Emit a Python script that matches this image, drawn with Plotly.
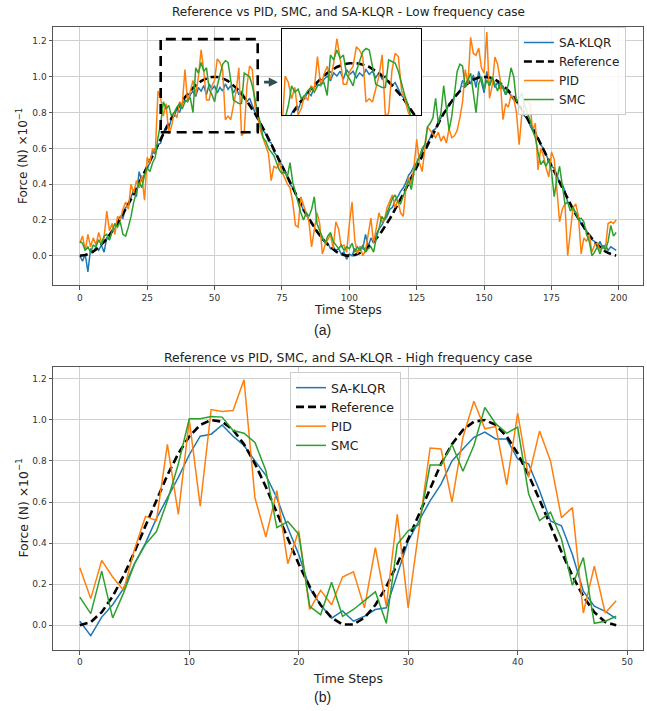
import plotly.graph_objects as go

# ---------------- data: low frequency case (200 steps) ----------------
steps_low = list(range(200))

ref_low = [0.000,0.001,0.004,0.009,0.016,0.024,0.035,0.048,0.062,0.078,
           0.095,0.115,0.136,0.158,0.181,0.206,0.232,0.259,0.287,0.316,
           0.345,0.376,0.406,0.437,0.469,0.500,0.531,0.563,0.594,0.624,
           0.655,0.684,0.713,0.742,0.768,0.794,0.819,0.842,0.864,0.885,
           0.905,0.922,0.938,0.952,0.965,0.976,0.984,0.991,0.996,0.999,
           1.000,0.999,0.996,0.991,0.984,0.976,0.965,0.952,0.938,0.922,
           0.905,0.885,0.864,0.842,0.819,0.794,0.768,0.742,0.713,0.684,
           0.655,0.624,0.594,0.563,0.531,0.500,0.469,0.437,0.406,0.376,
           0.345,0.316,0.287,0.259,0.232,0.206,0.181,0.158,0.136,0.115,
           0.095,0.078,0.062,0.048,0.035,0.024,0.016,0.009,0.004,0.001,
           0.000,0.001,0.004,0.009,0.016,0.024,0.035,0.048,0.062,0.078,
           0.095,0.115,0.136,0.158,0.181,0.206,0.232,0.259,0.287,0.316,
           0.345,0.376,0.406,0.437,0.469,0.500,0.531,0.563,0.594,0.624,
           0.655,0.684,0.713,0.742,0.768,0.794,0.819,0.842,0.864,0.885,
           0.905,0.922,0.938,0.952,0.965,0.976,0.984,0.991,0.996,0.999,
           1.000,0.999,0.996,0.991,0.984,0.976,0.965,0.952,0.938,0.922,
           0.905,0.885,0.864,0.842,0.819,0.794,0.768,0.742,0.713,0.684,
           0.655,0.624,0.594,0.563,0.531,0.500,0.469,0.437,0.406,0.376,
           0.345,0.316,0.287,0.259,0.232,0.206,0.181,0.158,0.136,0.115,
           0.095,0.078,0.062,0.048,0.035,0.024,0.016,0.009,0.004,0.001]

sa_klqr_low = [0.00,-0.03,0.01,-0.09,0.04,0.02,0.05,0.03,0.06,0.02,
               0.10,0.09,0.14,0.15,0.19,0.22,0.21,0.27,0.28,0.32,
               0.37,0.33,0.47,0.42,0.46,0.49,0.52,0.58,0.57,0.62,
               0.63,0.69,0.72,0.71,0.77,0.78,0.82,0.80,0.85,0.87,
               0.86,0.90,0.92,0.89,0.94,0.92,0.95,0.90,0.96,0.93,
               0.95,0.91,0.94,0.92,0.96,0.93,0.95,0.91,0.94,0.90,
               0.92,0.88,0.86,0.88,0.84,0.80,0.78,0.74,0.70,0.68,
               0.64,0.63,0.58,0.56,0.52,0.51,0.47,0.44,0.40,0.38,
               0.34,0.31,0.29,0.25,0.24,0.20,0.18,0.16,0.13,0.12,
               0.09,0.08,0.07,0.04,0.05,0.03,0.04,0.01,0.02,-0.02,
               0.01,0.00,0.04,0.02,0.05,0.04,0.12,0.05,0.10,0.07,
               0.12,0.15,0.17,0.20,0.22,0.26,0.27,0.31,0.33,0.36,
               0.38,0.41,0.45,0.47,0.50,0.52,0.56,0.58,0.62,0.63,
               0.66,0.70,0.71,0.75,0.77,0.80,0.81,0.85,0.86,0.89,
               0.90,0.92,0.98,0.95,0.99,0.96,1.01,0.94,1.03,0.97,
               0.91,1.03,0.95,0.99,0.94,0.97,0.93,0.95,0.90,0.92,
               0.89,0.87,0.86,0.84,0.82,0.78,0.77,0.73,0.70,0.69,
               0.65,0.62,0.60,0.56,0.53,0.50,0.49,0.45,0.41,0.40,
               0.36,0.30,0.29,0.26,0.24,0.21,0.18,0.16,0.14,0.11,
               0.09,0.08,0.05,0.08,0.04,0.06,0.03,0.05,0.04,0.03]

pid_low = [0.07,0.11,0.03,0.12,0.05,0.10,0.06,0.13,0.08,0.10,
           0.25,0.14,0.18,0.12,0.22,0.20,0.26,0.30,0.26,0.40,
           0.35,0.42,0.38,0.45,0.31,0.55,0.52,0.60,0.58,0.92,
           0.88,0.78,0.85,0.68,0.72,0.80,0.77,0.86,0.84,1.04,
           0.86,0.93,0.98,0.90,1.00,1.15,1.03,0.87,0.87,0.95,
           0.98,1.10,1.08,1.04,0.76,0.78,0.76,0.84,0.92,1.05,
           0.67,0.69,0.95,1.06,1.04,0.83,0.78,0.70,0.66,0.62,
           0.57,0.42,0.50,0.49,0.52,0.47,0.43,0.40,0.38,0.30,
           0.17,0.16,0.33,0.28,0.24,0.19,0.05,0.15,0.24,0.18,
           0.01,0.06,0.09,0.12,0.04,0.19,0.15,0.05,0.06,0.02,
           0.18,0.30,0.09,0.01,0.05,0.00,0.03,0.11,0.21,0.07,
           0.16,0.24,0.19,0.20,0.27,0.31,0.34,0.27,0.31,0.24,
           0.22,0.38,0.44,0.40,0.50,0.65,0.52,0.47,0.60,0.72,
           0.70,0.68,0.66,0.69,0.64,0.67,0.63,0.71,0.66,0.67,
           0.70,0.77,0.86,1.04,0.96,1.22,1.13,1.12,1.16,1.05,
           1.02,1.25,0.88,0.95,1.11,1.07,0.98,0.76,0.85,0.83,
           0.90,0.88,0.80,0.62,0.79,0.86,0.87,0.85,0.70,0.74,
           0.48,0.60,0.56,0.49,0.44,0.58,0.54,0.37,0.19,0.26,
           0.29,0.00,0.15,0.27,0.29,0.22,0.01,0.10,0.08,0.12,
           0.02,0.06,0.07,0.03,0.05,0.04,0.18,0.19,0.18,0.20]

smc_low = [0.08,0.07,0.03,0.05,0.02,0.06,0.05,0.09,0.06,0.11,
           0.12,0.09,0.14,0.18,0.16,0.19,0.12,0.11,0.16,0.22,
           0.30,0.35,0.41,0.38,0.45,0.49,0.47,0.52,0.55,0.66,
           0.74,0.86,0.82,0.84,0.78,0.80,0.83,0.85,0.82,0.86,
           0.87,0.88,0.80,1.05,1.02,1.08,1.03,1.05,0.93,0.90,
           0.86,0.95,1.01,1.07,1.09,1.08,0.98,0.87,0.86,0.85,
           0.85,1.02,1.01,1.00,0.95,0.87,0.80,0.74,0.66,0.64,
           0.60,0.58,0.56,0.52,0.48,0.46,0.47,0.44,0.52,0.41,
           0.35,0.30,0.24,0.20,0.24,0.22,0.26,0.33,0.18,0.14,
           0.10,0.07,0.11,0.13,0.08,0.06,0.04,0.06,0.03,0.05,
           0.04,0.07,0.02,0.05,0.03,0.06,0.02,0.04,0.05,0.02,
           0.10,0.15,0.22,0.20,0.24,0.27,0.32,0.34,0.30,0.29,
           0.33,0.38,0.42,0.37,0.47,0.52,0.55,0.60,0.62,0.72,
           0.74,0.77,0.88,0.74,0.80,0.95,0.84,0.70,0.78,0.89,
           1.03,1.07,1.06,0.94,0.98,1.02,0.91,0.80,0.96,1.00,
           0.93,0.98,0.95,1.00,0.96,0.92,0.97,0.93,0.90,0.96,
           1.05,1.00,0.86,0.88,0.91,0.84,0.80,0.76,0.70,0.66,
           0.58,0.51,0.53,0.50,0.54,0.47,0.33,0.43,0.50,0.38,
           0.29,0.30,0.25,0.27,0.24,0.20,0.21,0.19,0.12,0.08,
           0.00,0.02,0.05,0.01,0.06,0.03,0.08,0.17,0.11,0.13]

# ---------------- data: high frequency case (50 steps) ----------------
steps_high = list(range(50))

ref_high = [0.000,0.016,0.064,0.141,0.241,0.358,0.484,0.611,0.731,0.836,
            0.919,0.975,0.999,0.991,0.951,0.881,0.786,0.673,0.548,0.420,
            0.298,0.188,0.099,0.037,0.004,0.004,0.037,0.099,0.188,0.298,
            0.420,0.548,0.673,0.786,0.881,0.951,0.991,0.999,0.975,0.919,
            0.836,0.731,0.611,0.484,0.358,0.241,0.141,0.064,0.016,0.000]

sa_klqr_high = [0.02,-0.05,0.04,0.10,0.18,0.30,0.40,0.52,0.62,0.72,
                0.83,0.92,0.93,0.975,0.92,0.875,0.80,0.73,0.62,0.475,
                0.345,0.18,0.10,0.035,0.07,0.02,0.044,0.077,0.085,0.25,
                0.41,0.51,0.606,0.687,0.80,0.858,0.915,0.94,0.907,0.907,
                0.81,0.785,0.655,0.508,0.484,0.345,0.166,0.093,0.068,0.033]

pid_high = [0.28,0.13,0.316,0.235,0.17,0.37,0.53,0.51,0.88,0.54,
            1.00,0.58,1.05,1.04,1.045,1.195,0.62,0.43,0.655,0.30,
            0.46,0.077,0.17,0.10,0.235,0.26,0.085,0.378,0.093,0.54,
            0.085,0.47,0.863,0.858,0.60,0.915,1.09,0.956,0.967,0.684,
            1.033,0.72,0.945,0.80,0.524,0.573,0.06,0.288,0.06,0.12]

smc_high = [0.137,0.057,0.264,0.036,0.158,0.30,0.394,0.456,0.606,0.785,
            1.005,1.005,1.016,1.013,0.948,0.935,0.89,0.752,0.475,0.505,
            0.443,0.093,0.052,0.21,0.044,0.077,0.12,0.163,0.01,0.394,
            0.46,0.49,0.78,0.78,0.88,0.75,0.875,1.06,0.98,0.935,
            0.964,0.64,0.51,0.55,0.42,0.195,0.33,0.01,0.02,0.044]

series_names = ["SA-KLQR", "Reference", "PID", "SMC"]
colors = ["#1f77b4", "black", "#ff7f0e", "#2ca02c"]

low_sets = [sa_klqr_low, ref_low, pid_low, smc_low]
high_sets = [sa_klqr_high, ref_high, pid_high, smc_high]

FONT = "DejaVu Sans"

fig = go.Figure()


def line_style(i):
    if series_names[i] == "Reference":
        return dict(color=colors[i], width=2.6, dash="8px,4px")
    return dict(color=colors[i], width=1.5)


# main low-frequency panel
for i, ys in enumerate(low_sets):
    fig.add_trace(go.Scatter(x=steps_low, y=ys, mode="lines", name=series_names[i],
                             line=line_style(i), xaxis="x", yaxis="y",
                             legend="legend"))
# inset (zoomed view)
for i, ys in enumerate(low_sets):
    fig.add_trace(go.Scatter(x=steps_low, y=ys, mode="lines", name=series_names[i],
                             line=line_style(i), xaxis="x3", yaxis="y3",
                             showlegend=False))
# high-frequency panel
for i, ys in enumerate(high_sets):
    fig.add_trace(go.Scatter(x=steps_high, y=ys, mode="lines", name=series_names[i],
                             line=line_style(i), xaxis="x2", yaxis="y2",
                             legend="legend2"))

axis_common = dict(showline=True, mirror=True, linecolor="#555555", linewidth=1,
                   showgrid=True, gridcolor="#d0d0d0", gridwidth=1, zeroline=False,
                   ticks="outside", ticklen=3.5, tickcolor="#555555",
                   tickfont=dict(family=FONT, size=9, color="#333333"))

top_dom = [0.5851, 1.0]
bot_dom = [0.0, 0.4543]

fig.update_layout(
    width=647, height=711,
    margin=dict(l=53, r=4, t=27, b=61, autoexpand=False),
    paper_bgcolor="white", plot_bgcolor="white",
    font=dict(family=FONT, color="#222222"),
    xaxis=dict(domain=[0, 1], anchor="y", range=[-9.95, 208.95],
               tickvals=[0, 25, 50, 75, 100, 125, 150, 175, 200], **axis_common),
    yaxis=dict(domain=top_dom, anchor="x", range=[-0.166, 1.278],
               tickvals=[0, 0.2, 0.4, 0.6, 0.8, 1.0, 1.2],
               ticktext=["0.0", "0.2", "0.4", "0.6", "0.8", "1.0", "1.2"], **axis_common),
    xaxis2=dict(domain=[0, 1], anchor="y2", range=[-2.45, 51.45],
                tickvals=[0, 10, 20, 30, 40, 50], **axis_common),
    yaxis2=dict(domain=bot_dom, anchor="x2", range=[-0.12, 1.257],
                tickvals=[0, 0.2, 0.4, 0.6, 0.8, 1.0, 1.2],
                ticktext=["0.0", "0.2", "0.4", "0.6", "0.8", "1.0", "1.2"], **axis_common),
    xaxis3=dict(domain=[0.388, 0.6237], anchor="y3", range=[28, 71],
                showline=True, mirror=True, linecolor="black", linewidth=1.3,
                showgrid=False, zeroline=False, showticklabels=False, ticks=""),
    yaxis3=dict(domain=[0.8587, 0.9968], anchor="x3", range=[0.68, 1.21],
                showline=True, mirror=True, linecolor="black", linewidth=1.3,
                showgrid=False, zeroline=False, showticklabels=False, ticks=""),
    legend=dict(x=0.788, y=1.0, xanchor="left", yanchor="top",
                bgcolor="rgba(255,255,255,0.85)", bordercolor="#cccccc", borderwidth=1,
                font=dict(family=FONT, size=12, color="#222222"), itemwidth=30,
                tracegroupgap=0),
    legend2=dict(x=0.4017, y=0.4462, xanchor="left", yanchor="top",
                 bgcolor="rgba(255,255,255,0.85)", bordercolor="#cccccc", borderwidth=1,
                 font=dict(family=FONT, size=12.5, color="#222222"), itemwidth=30,
                 tracegroupgap=0),
)

# zoom rectangle on the main panel
fig.add_shape(type="rect", xref="x", yref="y", x0=30, x1=66, y0=0.69, y1=1.21,
              line=dict(color="black", width=2.6, dash="10px,6px"))

# arrow pointing to the inset
fig.add_annotation(x=73.5, y=0.97, ax=67.8, ay=0.97, xref="x", yref="y",
                   axref="x", ayref="y", text="", showarrow=True,
                   arrowhead=2, arrowsize=0.7, arrowwidth=2.6, arrowcolor="#2f4f4f")

texts = [
    ("Reference vs PID, SMC, and SA-KLQR - Low frequency case", 0.5, 1.024, 12, 0, FONT),
    ("Reference vs PID, SMC, and SA-KLQR - High frequency case", 0.5, 0.4703, 12.4, 0, FONT),
    ("Time Steps", 0.5, 0.5455, 12, 0, FONT),
    ("Time Steps", 0.5, -0.0465, 12.4, 0, FONT),
    ("(a)", 0.4576, 0.5136, 14, 0, "Liberation Sans"),
    ("(b)", 0.4576, -0.0754, 14, 0, "Liberation Sans"),
    ("Force (N) ×10<sup>−1</sup>", -0.0525, 0.793, 12, -90, FONT),
    ("Force (N) ×10<sup>−1</sup>", -0.0525, 0.227, 12.4, -90, FONT),
]
for txt, x, y, size, ang, fam in texts:
    fig.add_annotation(text=txt, x=x, y=y, xref="paper", yref="paper",
                       xanchor="center", yanchor="middle", showarrow=False,
                       textangle=ang, font=dict(family=fam, size=size, color="#222222"))

fig.write_html("out.html", config={"displayModeBar": False},
               post_script="document.body.style.margin='0';document.body.style.overflow='hidden';")
